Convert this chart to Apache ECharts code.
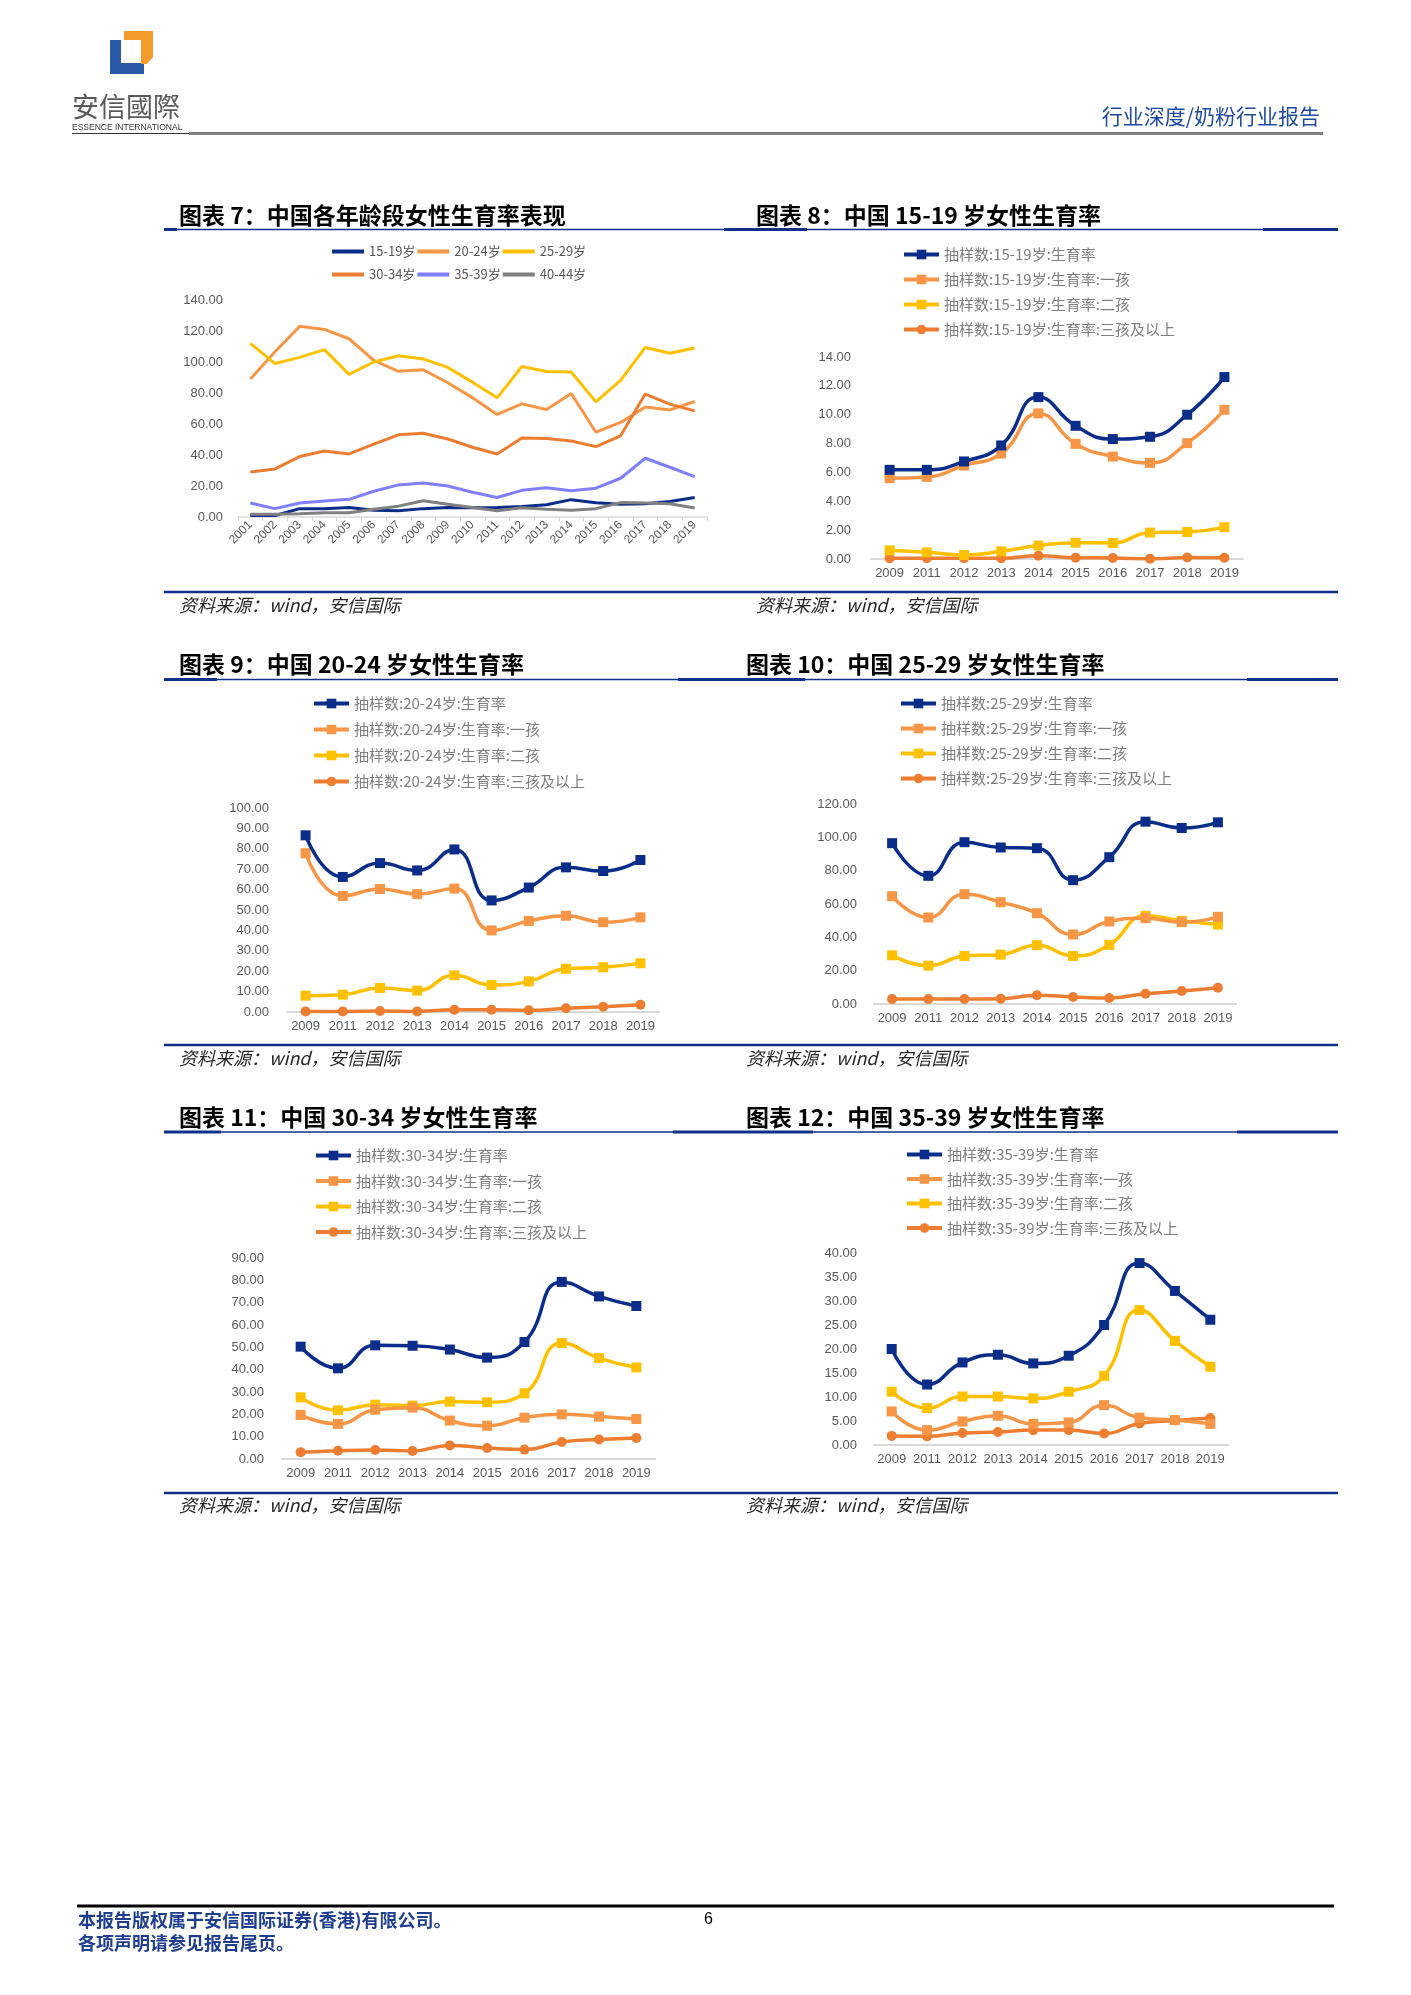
<!DOCTYPE html>
<html><head><meta charset="utf-8">
<script src="https://cdn.jsdelivr.net/npm/echarts@6/dist/echarts.min.js"></script>
<style>html,body{margin:0;padding:0;background:#fff}#c{width:1411px;height:1995px}</style>
</head><body><div id="c"></div>
<script>
// ---------- DATA ----------
const years7 = ['2001','2002','2003','2004','2005','2006','2007','2008','2009','2010','2011','2012','2013','2014','2015','2016','2017','2018','2019'];
const s7_1519 = [1.0,1.0,5.4,5.4,6.2,4.3,4.0,5.4,6.2,6.0,6.2,6.8,7.9,11.2,9.2,8.3,8.5,10.0,12.6];
const s7_2024 = [89,106.6,123,121,115,101,94,95,86.6,77,66.2,73,69.4,79.7,54.7,61,70.9,69.1,74.5];
const s7_2529 = [112,99,103,108,92,100,104,102,96.5,87,76.9,97.1,93.9,93.5,74.3,88.1,109.4,105.6,109];
const s7_3034 = [29,31,39,42.6,40.7,47,53,54,50.3,45,40.6,50.9,50.7,49,45.4,52.4,79.3,72.8,68.5];
const s7_3539 = [9,5.4,9,10.3,11.4,16.6,20.7,22,20,16,12.6,17.2,18.8,17,18.6,25,37.9,32.1,26.1];
const s7_4044 = [1.7,1.7,2.1,2.8,2.8,5,7,10.5,8.2,6.2,4,6,5,4.3,5.4,9.3,9,8.6,5.8];

const years = ['2009','2011','2012','2013','2014','2015','2016','2017','2018','2019'];
// 15-19
const c8_all    = [6.18,6.18,6.76,7.87,11.22,9.23,8.31,8.47,10.0,12.61];
const c8_first  = [5.6,5.69,6.48,7.31,10.09,7.98,7.1,6.66,8.03,10.34];
const c8_second = [0.6,0.46,0.28,0.53,0.93,1.13,1.11,1.83,1.87,2.2];
const c8_third  = [0.05,0.05,0.05,0.05,0.23,0.09,0.07,0.02,0.1,0.09];
// 20-24
const c9_all    = [86.6,66.2,73,69.4,79.7,54.7,61,70.9,69.1,74.5];
const c9_first  = [77.8,56.9,60.3,57.8,60.5,40,44.6,47.2,44,46.4];
const c9_second = [8,8.5,11.8,10.5,18,13.2,15,21.2,21.9,23.9];
const c9_third  = [0.3,0.3,0.5,0.3,1.1,1.1,0.8,1.8,2.6,3.6];
// 25-29
const c10_all    = [96.5,76.9,97.1,93.9,93.5,74.3,88.1,109.4,105.6,109];
const c10_first  = [64.7,51.9,65.9,61.1,54.5,41.7,49.5,51.5,49.1,52.3];
const c10_second = [29.2,23,28.8,29.6,35.3,28.8,35.5,52.9,49.9,47.7];
const c10_third  = [3,3,3,3.2,5.2,4.2,3.6,6.2,7.8,9.8];
// 30-34
const c11_all    = [50.3,40.6,50.9,50.7,49,45.4,52.4,79.3,72.8,68.5];
const c11_first  = [19.7,15.7,22.1,23,17.2,14.9,18.5,20,19,17.9];
const c11_second = [27.6,21.8,24.3,23.9,25.7,25.4,29.4,51.9,45.2,41];
const c11_third  = [3,3.7,4,3.6,6.1,4.9,4.2,7.6,8.7,9.4];
// 35-39
const c12_all    = [20,12.6,17.2,18.8,17,18.6,25,37.9,32.1,26.1];
const c12_first  = [7,3.1,4.9,6.1,4.4,4.7,8.3,5.7,5.2,4.4];
const c12_second = [11.1,7.7,10.1,10.1,9.7,11.1,14.4,28.1,21.7,16.3];
const c12_third  = [1.9,1.8,2.5,2.7,3.1,3.1,2.4,4.5,5.1,5.6];

// y-axis ranges (tick labels)
const yAxis7  = {min:0,max:140,interval:20};
const yAxis8  = {min:0,max:14,interval:2};
const yAxis9  = {min:0,max:100,interval:10};
const yAxis10 = {min:0,max:120,interval:20};
const yAxis11 = {min:0,max:90,interval:10};
const yAxis12 = {min:0,max:40,interval:5};

const names7 = ['15-19岁','20-24岁','25-29岁','30-34岁','35-39岁','40-44岁'];
const suffixes = ['生育率','生育率:一孩','生育率:二孩','生育率:三孩及以上'];

// ---------- STYLE ----------
const NAVY='#0B2D8A', LORANGE='#F79646', YELLOW='#FFC000', DORANGE='#ED7D31', LAV='#7F7FFF', GRAY='#808080';
const LINEBLUE='#10308A';
const AXISTXT='#595959';
const CJK='"Noto Sans CJK SC"';

const grids = [
  {left:238, top:300, width:469, height:217},
  {left:871, top:357, width:372, height:202},
  {left:287, top:808, width:372, height:204},
  {left:874, top:804, width:362, height:200},
  {left:282, top:1258, width:373, height:201},
  {left:874, top:1253, width:354, height:192}
];
const yRanges=[yAxis7,yAxis8,yAxis9,yAxis10,yAxis11,yAxis12];
const yMargins=[15,20,18,17,18,17];

const xAxes = grids.map((g,i)=>({
  type:'category', gridIndex:i, data: i===0?years7:years, boundaryGap:true,
  axisLine:{show:true,lineStyle:{color:'#D9D9D9',width:i===0?1.5:2}},
  axisTick:{show:i===0,length:4,lineStyle:{color:'#D9D9D9'}},
  axisLabel: i===0 ? {rotate:45,fontSize:12,color:AXISTXT,margin:6,interval:0,fontFamily:'Liberation Sans'}
                   : {fontSize:13,color:AXISTXT,margin:8,interval:0,fontFamily:'Liberation Sans'},
  splitLine:{show:false}
}));
const yAxes = grids.map((g,i)=>Object.assign({
  type:'value', gridIndex:i,
  axisLine:{show:false}, axisTick:{show:false}, splitLine:{show:false},
  axisLabel:{formatter:v=>v.toFixed(2),color:AXISTXT,fontSize:13,margin:yMargins[i],fontFamily:'Liberation Sans'}
}, yRanges[i]));

const series=[];
const c7data=[s7_1519,s7_2024,s7_2529,s7_3034,s7_3539,s7_4044];
const c7col=[NAVY,LORANGE,YELLOW,DORANGE,LAV,GRAY];
c7data.forEach((d,k)=>series.push({
  type:'line', name:names7[k], xAxisIndex:0, yAxisIndex:0, data:d,
  symbol:'none', showSymbol:false, smooth:false,
  lineStyle:{width:3,color:c7col[k]}, itemStyle:{color:c7col[k]}
}));
const groups=[
  ['15-19岁',[c8_all,c8_first,c8_second,c8_third]],
  ['20-24岁',[c9_all,c9_first,c9_second,c9_third]],
  ['25-29岁',[c10_all,c10_first,c10_second,c10_third]],
  ['30-34岁',[c11_all,c11_first,c11_second,c11_third]],
  ['35-39岁',[c12_all,c12_first,c12_second,c12_third]]
];
const gcol=[NAVY,LORANGE,YELLOW,DORANGE];
const legendNames=[];
groups.forEach((gr,gi)=>{
  const nm=[];
  gr[1].forEach((d,k)=>{
    const name='抽样数:'+gr[0]+':'+suffixes[k];
    nm.push(name);
    series.push({
      type:'line', name, xAxisIndex:gi+1, yAxisIndex:gi+1, data:d,
      smooth:true, symbol:k===3?'circle':'rect', symbolSize:10, showSymbol:true,
      lineStyle:{width:3.5,color:gcol[k]}, itemStyle:{color:gcol[k]}, z:10-k
    });
  });
  legendNames.push(nm);
});

const legTxt={color:'#7F7F7F',fontSize:15,fontFamily:CJK};
const legPos=[[897,242,10],[307,691,11],[894,691,10],[309,1143,10.5],[900,1142,9.5]];
const legends=[
  {left:327,top:240,orient:'horizontal',itemWidth:32,itemHeight:4,icon:'rect',itemGap:2,data:names7.slice(0,3),textStyle:{color:AXISTXT,fontSize:13,fontFamily:CJK}},
  {left:327,top:263,orient:'horizontal',itemWidth:32,itemHeight:4,icon:'rect',itemGap:2,data:names7.slice(3),textStyle:{color:AXISTXT,fontSize:13,fontFamily:CJK}}
];
legendNames.forEach((nm,i)=>legends.push({
  left:legPos[i][0],top:legPos[i][1],orient:'vertical',itemWidth:35,itemHeight:12,itemGap:legPos[i][2],
  lineStyle:{width:4},
  data:nm,textStyle:legTxt
}));

// ---------- PAGE GRAPHICS ----------
const G=[];
function txt(t,x,y,font,fill,align){G.push({type:'text',silent:true,style:{text:t,x,y,font,fill,textAlign:align||'left',textVerticalAlign:'middle'}});}
function ln(x1,y1,x2,y2,c,w){G.push({type:'line',silent:true,shape:{x1,y1,x2,y2},style:{stroke:c,lineWidth:w}});}

// header logo
G.push({type:'polygon',silent:true,shape:{points:[[110,40],[121,40],[121,63],[144,63],[144,74],[110,74]]},style:{fill:'#2A5AA8'}});
G.push({type:'polygon',silent:true,shape:{points:[[124,31],[153,31],[153,57],[147,64],[141,64],[141,40],[124,40]]},style:{fill:'#F39A2B'}});
txt('安信國際',72,107,'27px "Noto Sans CJK TC"','#5A5A5A');
txt('ESSENCE INTERNATIONAL',72,128,'8.5px "Liberation Sans"','#333333');
ln(72,133.5,189,133.5,'#333333',1);
ln(189,133.5,1323,133.5,'#808080',3);
txt('行业深度/奶粉行业报告',1320,116,'21px "Noto Sans CJK SC"','#1F4B9E','right');

// titles
const TF='bold 23px '+CJK;
txt('图表 7：中国各年龄段女性生育率表现',179,215,TF,'#000');
txt('图表 8：中国 15-19 岁女性生育率',756,215,TF,'#000');
txt('图表 9：中国 20-24 岁女性生育率',179,664,TF,'#000');
txt('图表 10：中国 25-29 岁女性生育率',746,664,TF,'#000');
txt('图表 11：中国 30-34 岁女性生育率',179,1117,TF,'#000');
txt('图表 12：中国 35-39 岁女性生育率',746,1117,TF,'#000');

// row lines
[[229.5,[[164,177],[724,807],[1263,1338]]],[679.5,[[164,217],[678,805],[1247,1338]]],[1132,[[164,221],[673,813],[1237,1338]]]].forEach(r=>{
  ln(164,r[0],1338,r[0],LINEBLUE,1.5);
  r[1].forEach(s=>ln(s[0],r[0],s[1],r[0],LINEBLUE,3));
});
[592,1045,1493].forEach(y=>ln(164,y,1338,y,LINEBLUE,2.5));

// sources
const SF='italic 18px '+CJK;
txt('资料来源：wind，安信国际',179,605,SF,'#262626');
txt('资料来源：wind，安信国际',756,605,SF,'#262626');
txt('资料来源：wind，安信国际',179,1058,SF,'#262626');
txt('资料来源：wind，安信国际',746,1058,SF,'#262626');
txt('资料来源：wind，安信国际',179,1505,SF,'#262626');
txt('资料来源：wind，安信国际',746,1505,SF,'#262626');

// footer
ln(77,1906,1334,1906,'#000',3);
txt('本报告版权属于安信国际证券(香港)有限公司。',78,1920,'bold 18px '+CJK,'#1F3E8E');
txt('各项声明请参见报告尾页。',78,1943,'bold 18px '+CJK,'#1F3E8E');
txt('6',704,1920,'16px "Liberation Sans"','#000');

const chart=echarts.init(document.getElementById('c'),null,{renderer:'canvas'});
chart.setOption({
  backgroundColor:'#fff',
  animation:false,
  grid:grids,
  xAxis:xAxes,
  yAxis:yAxes,
  legend:legends,
  series,
  graphic:G
});
</script></body></html>
